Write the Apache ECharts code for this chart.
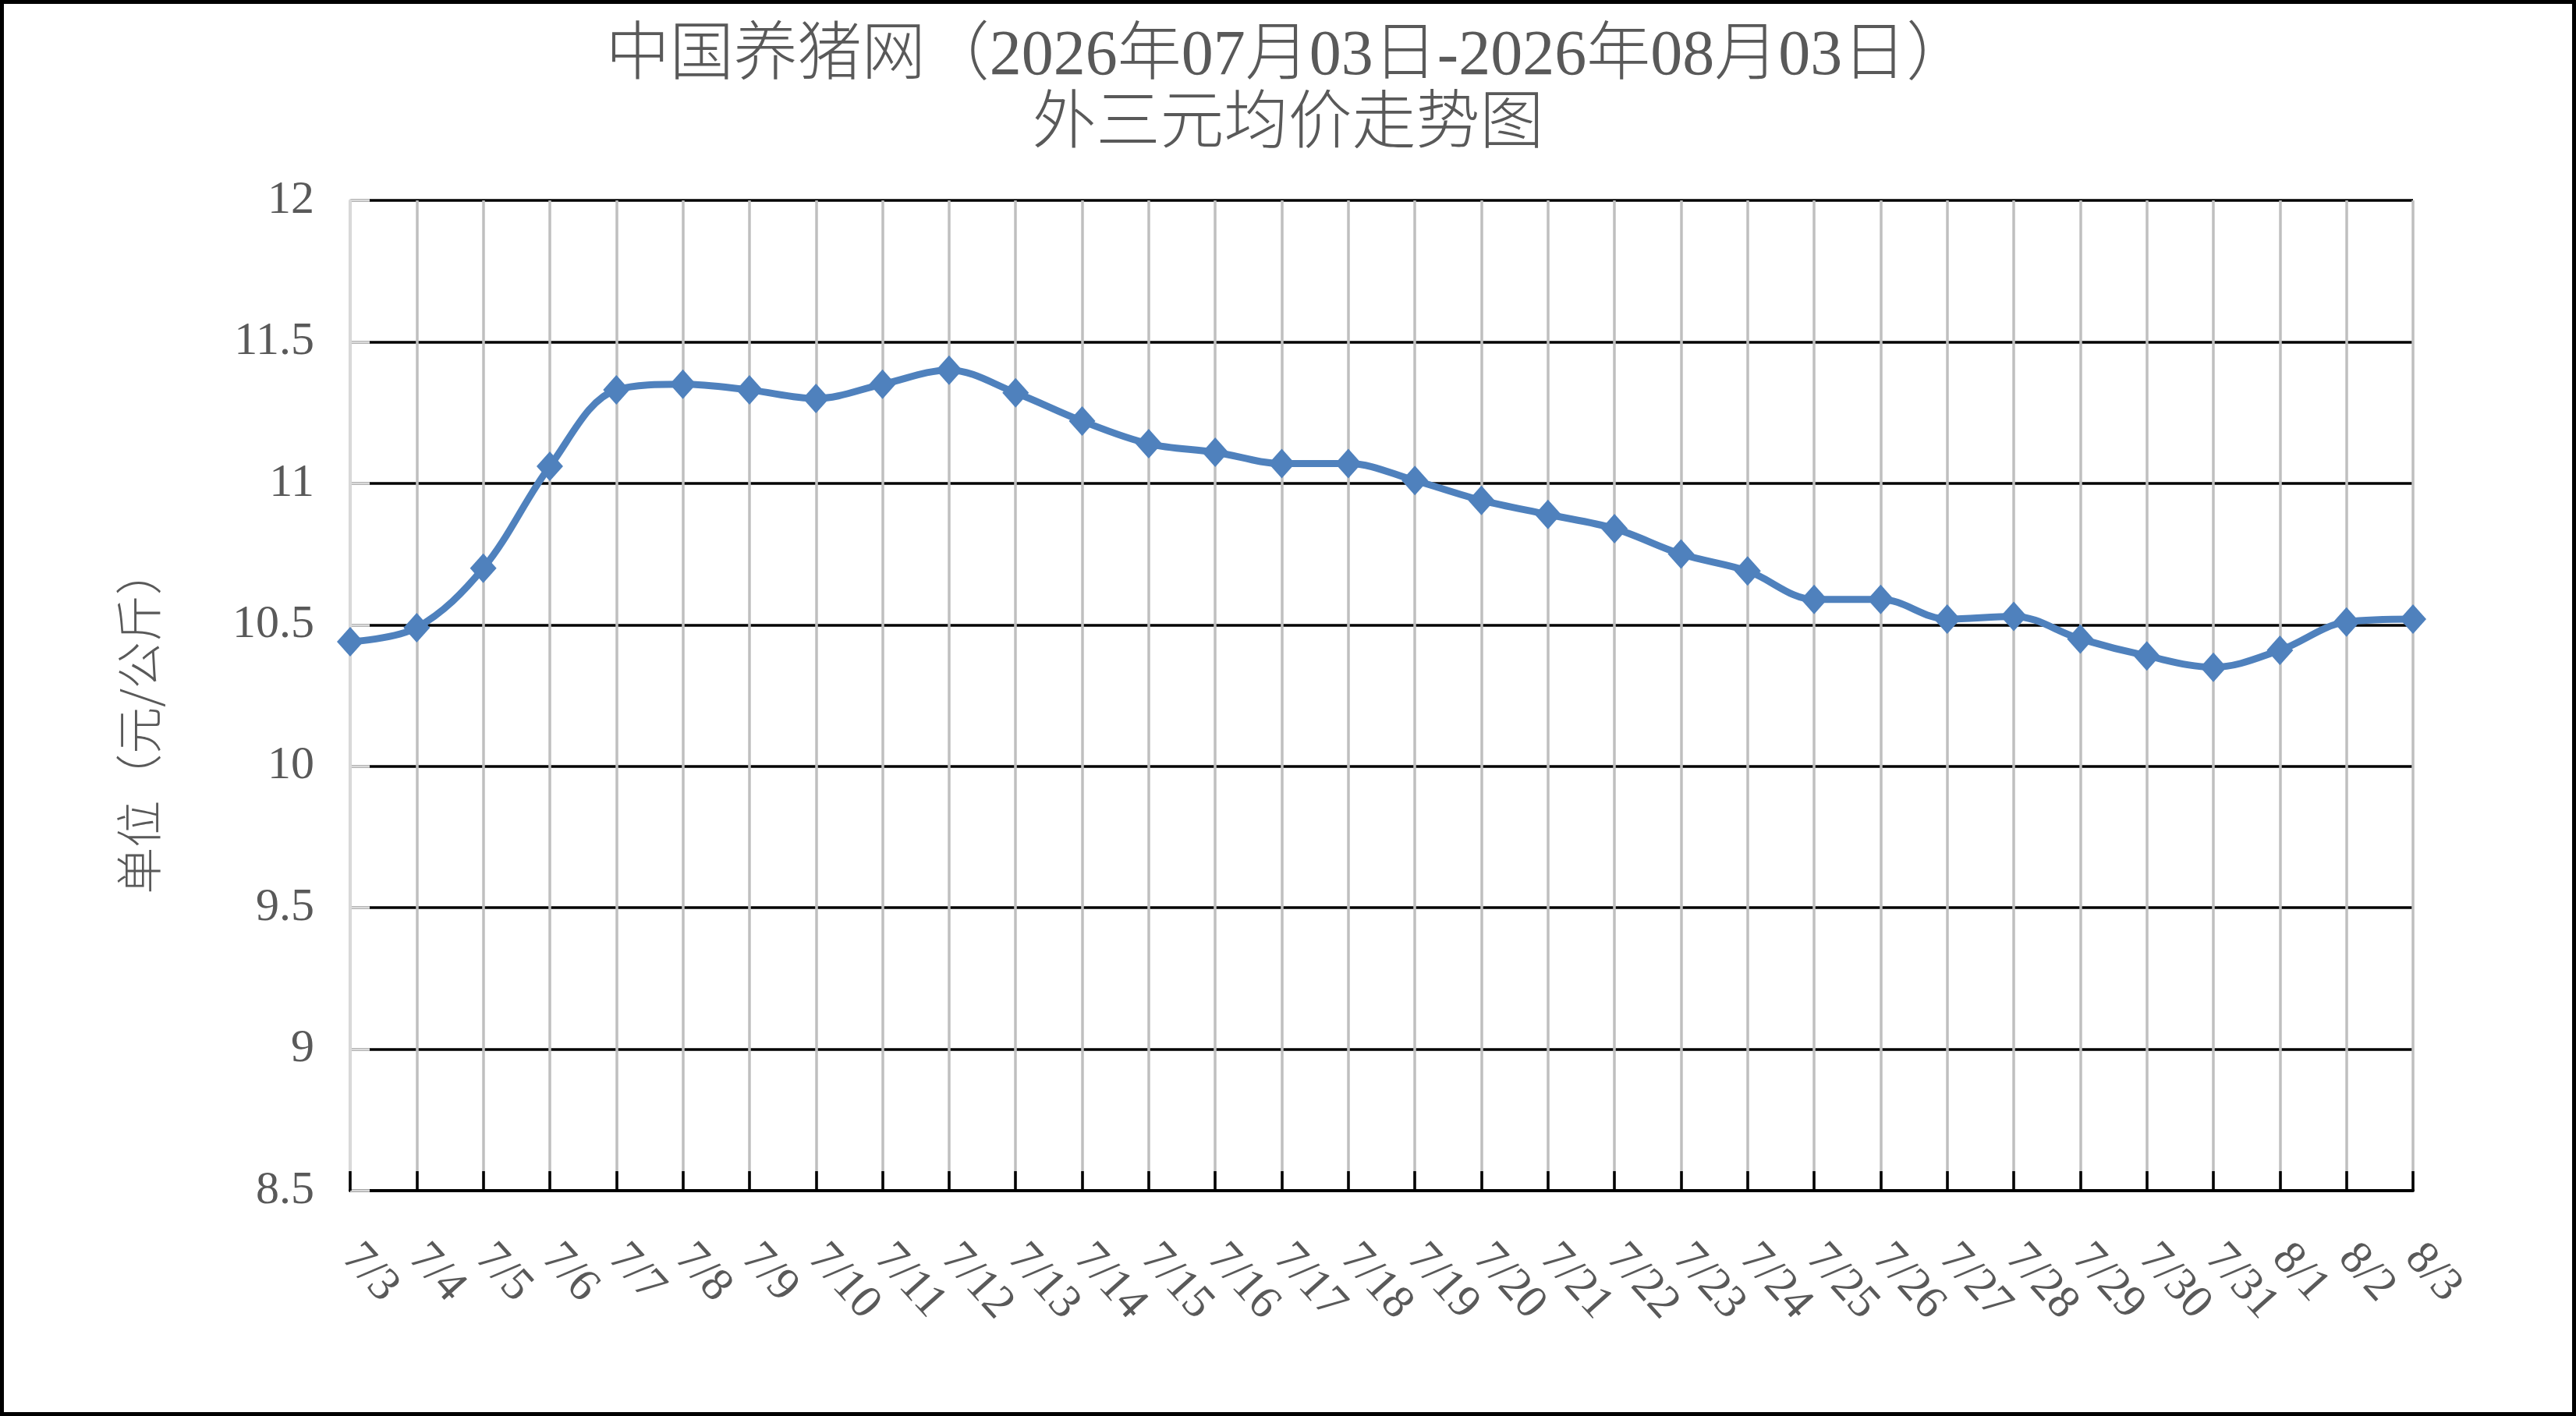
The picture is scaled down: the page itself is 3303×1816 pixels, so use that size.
<!DOCTYPE html>
<html>
<head>
<meta charset="utf-8">
<title>外三元均价走势图</title>
<script src="https://cdn.jsdelivr.net/npm/echarts@6/dist/echarts.min.js"></script>
<style>
    html, body { margin: 0; padding: 0; background: #fff; }
    #chart { width: 3303px; height: 1816px; }
</style>
</head>
<body>
<div id="chart"></div>
<script>
(function () {
    "use strict";

    var titleLines = ['中国养猪网（2026年07月03日-2026年08月03日）', '外三元均价走势图'];
    var yName = '单位（元/公斤）';

    var dates = ['7/3', '7/4', '7/5', '7/6', '7/7', '7/8', '7/9', '7/10', '7/11', '7/12',
        '7/13', '7/14', '7/15', '7/16', '7/17', '7/18', '7/19', '7/20', '7/21', '7/22',
        '7/23', '7/24', '7/25', '7/26', '7/27', '7/28', '7/29', '7/30', '7/31',
        '8/1', '8/2', '8/3'];

    // 外三元均价 (元/公斤)
    var prices = [10.44, 10.49, 10.70, 11.06, 11.33, 11.35, 11.33, 11.30, 11.35, 11.40,
        11.32, 11.22, 11.14, 11.11, 11.07, 11.07, 11.01, 10.94, 10.89, 10.84,
        10.75, 10.69, 10.59, 10.59, 10.52, 10.53, 10.45, 10.39, 10.35,
        10.41, 10.51, 10.52];

    var yMin = 8.5;
    var yMax = 12;
    var yStep = 0.5;

    var textColor = '#595959';
    var serif = '"Liberation Serif", "Noto Sans CJK SC", serif';
    var cjk = '"Noto Sans CJK SC", sans-serif';

    var myChart = echarts.init(document.getElementById('chart'));

    var option = {
        backgroundColor: '#ffffff',
        animation: false,
        title: {
            text: titleLines.join('\n'),
            left: 'center',
            top: 24,
            textStyle: {
                fontFamily: serif,
                fontSize: 82,
                lineHeight: 88,
                fontWeight: 300,
                color: textColor
            }
        },
        graphic: [{
            type: 'rect',
            shape: { x: 2.5, y: 2.5, width: 3298, height: 1811 },
            style: { fill: 'none', stroke: '#000', lineWidth: 5 },
            z: 100
        }],
        grid: { left: 449, right: 209, top: 257, bottom: 289 },
        xAxis: [{
            // gray vertical grid only
            type: 'category',
            data: dates,
            boundaryGap: false,
            axisLine: { show: false },
            axisTick: { show: false },
            axisLabel: { show: false },
            splitLine: {
                show: true,
                interval: 0,
                lineStyle: { color: '#bfbfbf', width: 3.5 }
            }
        }, {
            // axis line, inner ticks and labels drawn above the grid
            type: 'category',
            data: dates,
            position: 'bottom',
            boundaryGap: false,
            z: 5,
            axisLine: { show: true, lineStyle: { color: '#000', width: 4 } },
            axisTick: {
                show: true,
                inside: true,
                length: 25,
                interval: 0,
                lineStyle: { color: '#000', width: 3.5 }
            },
            axisLabel: {
                interval: 0,
                rotate: -48,
                margin: 77,
                fontFamily: serif,
                fontSize: 60,
                color: textColor
            },
            splitLine: { show: false }
        }],
        yAxis: [{
            type: 'value',
            min: yMin,
            max: yMax,
            interval: yStep,
            name: yName,
            nameLocation: 'middle',
            nameRotate: 90,
            nameGap: 241,
            nameTextStyle: {
                fontFamily: cjk,
                fontSize: 60,
                fontWeight: 300,
                color: textColor,
                padding: [0, 66, 0, 0]
            },
            axisLine: { show: false },
            axisTick: { show: false },
            axisLabel: {
                margin: 46,
                fontFamily: serif,
                fontSize: 60,
                color: textColor
            },
            splitLine: {
                show: true,
                lineStyle: { color: '#000', width: 3.5 }
            }
        }, {
            type: 'value',
            min: yMin,
            max: yMax,
            interval: yStep,
            position: 'left',
            z: 5,
            axisLine: { show: true, lineStyle: { color: '#d9d9d9', width: 3.5 } },
            axisTick: {
                show: true,
                inside: true,
                length: 25,
                lineStyle: { color: '#d9d9d9', width: 3.5 }
            },
            axisLabel: { show: false },
            splitLine: { show: false }
        }],
        series: [{
            type: 'line',
            xAxisIndex: 0,
            yAxisIndex: 0,
            data: prices,
            smooth: 0.35,
            z: 10,
            symbol: 'diamond',
            symbolSize: [34, 38],
            showAllSymbol: true,
            lineStyle: { color: '#4f81bd', width: 9 },
            itemStyle: { color: '#4f81bd' }
        }]
    };

    myChart.setOption(option, true);
}());
</script>
</body>
</html>
